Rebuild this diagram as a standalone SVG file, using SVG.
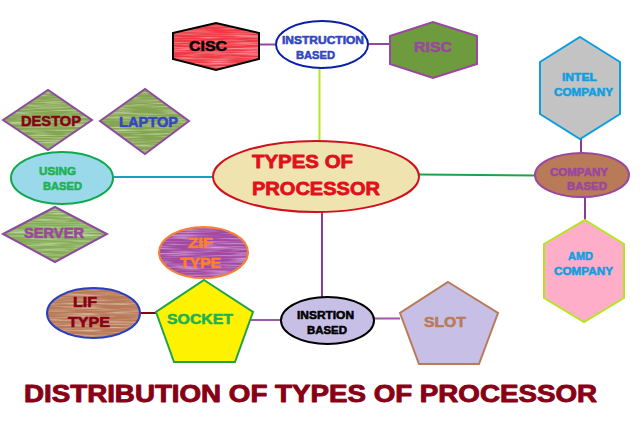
<svg xmlns="http://www.w3.org/2000/svg" width="640" height="422" viewBox="0 0 640 422">
<style>
text{font-family:"Liberation Sans",Arial,sans-serif;font-weight:bold;stroke-width:.55;stroke-linejoin:round}
.s11{font-size:11px}.s14{font-size:14.500px}.s15{font-size:15.500px}.s19{font-size:19px;stroke-width:.8}.s24{font-size:23.500px;stroke-width:.9}
.pur{fill:#9a479f;stroke:#9a479f}.blu{fill:#3347c0;stroke:#3347c0}.dred{fill:#880015;stroke:#880015}.grn{fill:#1fb155;stroke:#1fb155}.org{fill:#ff7f27;stroke:#ff7f27}.cya{fill:#0f9fe0;stroke:#0f9fe0}.red{fill:#e0101c;stroke:#e0101c}.blk{fill:#000;stroke:#000}.brn{fill:#b97a57;stroke:#b97a57}
.c{fill:none;stroke-width:2}
.o{fill:none;stroke-width:2}
.t{filter:url(#streak)}
</style>
<defs>
<filter id="streak" x="0" y="0" width="100%" height="100%" color-interpolation-filters="sRGB">
<feTurbulence type="fractalNoise" baseFrequency="0.03 0.6" numOctaves="2" seed="4" result="n"/>
<feColorMatrix in="n" type="matrix" values="0 0 0 0 1  0 0 0 0 1  0 0 0 0 1  1.1 0 0 0 -0.45" result="w"/>
<feComposite in="w" in2="SourceAlpha" operator="in" result="s"/>
<feMerge><feMergeNode in="SourceGraphic"/><feMergeNode in="s"/></feMerge>
</filter>
</defs>
<rect width="640" height="422" fill="#fff"/>
<g id="connectors" class="c">
<path d="M259 44.500H276" stroke="#8e4a9e"/>
<path d="M368 44H390" stroke="#8e4a9e"/>
<path d="M319.500 68V141" stroke="#b5e61d"/>
<path d="M113 177H214" stroke="#1a9fc0"/>
<path d="M419 174.500L535 175.500" stroke="#1fa34a"/>
<path d="M581 139V153" stroke="#8e3a94"/>
<path d="M585 197V220" stroke="#8e3a94"/>
<path d="M322 212V297" stroke="#8e3a94"/>
<path d="M140 313H156" stroke="#880015"/>
<path d="M251 320H281" stroke="#9a5aa6"/>
<path d="M374 318.500H400" stroke="#9a5aa6"/>
</g>
<g id="main">
<ellipse cx="316" cy="176.500" rx="103" ry="35.500" fill="#efe4b0" stroke="#d0101c" stroke-width="2"/>
<text class="s19 red" x="252" y="168" textLength="101" lengthAdjust="spacingAndGlyphs">TYPES OF</text>
<text class="s19 red" x="252" y="195" textLength="128" lengthAdjust="spacingAndGlyphs">PROCESSOR</text>
</g>
<g id="cisc">
<polygon class="t" points="173,33 216,23 259,33 259,59 216,70 173,59" fill="#ed3a44"/>
<polygon class="o" points="173,33 216,23 259,33 259,59 216,70 173,59" stroke="#000"/>
<text class="s15 blk" x="189" y="51" textLength="38" lengthAdjust="spacingAndGlyphs">CISC</text>
</g>
<g id="instruction">
<ellipse cx="322" cy="44.500" rx="46" ry="23.500" fill="#fff" stroke="#0a1fa8" stroke-width="2"/>
<text class="s11 blu" x="282" y="44" textLength="82" lengthAdjust="spacingAndGlyphs">INSTRUCTION</text>
<text class="s11 blu" x="296" y="59" textLength="39" lengthAdjust="spacingAndGlyphs">BASED</text>
</g>
<g id="risc">
<polygon points="390,36 433,22 477,36 477,64 433,78 390,64" fill="#6f9b3f" stroke="#9a479f" stroke-width="2"/>
<text class="s15 pur" x="414" y="52" textLength="38" lengthAdjust="spacingAndGlyphs">RISC</text>
</g>
<g id="intel">
<polygon points="580,37 620,62 620,114 580,139 540,114 540,62" fill="#c3c3c3" stroke="#0f9fdc" stroke-width="2"/>
<text class="s11 cya" x="562" y="81" textLength="35" lengthAdjust="spacingAndGlyphs">INTEL</text>
<text class="s11 cya" x="554" y="96" textLength="59" lengthAdjust="spacingAndGlyphs">COMPANY</text>
</g>
<g id="company">
<ellipse cx="582" cy="175" rx="47" ry="22" fill="#b97a57" stroke="#9a479f" stroke-width="2"/>
<text class="s11 pur" x="550" y="176" textLength="58" lengthAdjust="spacingAndGlyphs">COMPANY</text>
<text class="s11 pur" x="567" y="190" textLength="40" lengthAdjust="spacingAndGlyphs">BASED</text>
</g>
<g id="amd">
<polygon points="585,220 624,244 624,298 584,322 544,298 544,244" fill="#ffaec9" stroke="#b5e61d" stroke-width="2"/>
<text class="s11 cya" x="568" y="260" textLength="25" lengthAdjust="spacingAndGlyphs">AMD</text>
<text class="s11 cya" x="554" y="275" textLength="59" lengthAdjust="spacingAndGlyphs">COMPANY</text>
</g>
<g id="destop">
<polygon class="t" points="3,120 48,90 92,120 48,150" fill="#85a650"/>
<polygon class="o" points="3,120 48,90 92,120 48,150" stroke="#8e4a9e"/>
<text class="s14 dred" x="21" y="125.500" textLength="60" lengthAdjust="spacingAndGlyphs">DESTOP</text>
</g>
<g id="laptop">
<polygon class="t" points="100,121 145,89 189,121 145,154" fill="#85a650"/>
<polygon class="o" points="100,121 145,89 189,121 145,154" stroke="#8e4a9e"/>
<text class="s14 blu" x="119" y="127" textLength="59" lengthAdjust="spacingAndGlyphs">LAPTOP</text>
</g>
<g id="using">
<ellipse cx="62" cy="178" rx="51" ry="26" fill="#99d9ea" stroke="#0fa84c" stroke-width="2"/>
<text class="s11 grn" x="39" y="175" textLength="37" lengthAdjust="spacingAndGlyphs">USING</text>
<text class="s11 grn" x="43" y="190" textLength="39" lengthAdjust="spacingAndGlyphs">BASED</text>
</g>
<g id="server">
<polygon class="t" points="3,234 55,207 107,234 55,262" fill="#85ad55"/>
<polygon class="o" points="3,234 55,207 107,234 55,262" stroke="#8e4a9e"/>
<text class="s14 pur" x="24" y="238" textLength="60" lengthAdjust="spacingAndGlyphs">SERVER</text>
</g>
<g id="zif">
<ellipse class="t" cx="203.500" cy="252.500" rx="44.500" ry="25.500" fill="#a349a4"/>
<ellipse class="o" cx="203.500" cy="252.500" rx="44.500" ry="25.500" stroke="#f58233"/>
<text class="s14 org" x="188" y="248" textLength="25" lengthAdjust="spacingAndGlyphs">ZIF</text>
<text class="s14 org" x="180" y="268" textLength="41" lengthAdjust="spacingAndGlyphs">TYPE</text>
</g>
<g id="lif">
<ellipse class="t" cx="93.500" cy="313" rx="46.500" ry="25" fill="#b97a57"/>
<ellipse class="o" cx="93.500" cy="313" rx="46.500" ry="25" stroke="#2a3fc0"/>
<text class="s14 dred" x="73" y="307" textLength="24" lengthAdjust="spacingAndGlyphs">LIF</text>
<text class="s14 dred" x="68" y="327" textLength="42" lengthAdjust="spacingAndGlyphs">TYPE</text>
</g>
<g id="socket">
<polygon points="204,280 253,312 235,362 174,362 156,312" fill="#fff200" stroke="#1fa34a" stroke-width="2"/>
<text class="s14 grn" x="167" y="324" textLength="66" lengthAdjust="spacingAndGlyphs">SOCKET</text>
</g>
<g id="insertion">
<ellipse cx="327.500" cy="320.500" rx="46.500" ry="23.500" fill="#c8bfe7" stroke="#000" stroke-width="2"/>
<text class="s11 blk" x="297" y="319" textLength="57" lengthAdjust="spacingAndGlyphs">INSRTION</text>
<text class="s11 blk" x="307" y="334" textLength="40" lengthAdjust="spacingAndGlyphs">BASED</text>
</g>
<g id="slot">
<polygon points="448,282 498,313 479,364 419,364 400,313" fill="#c8bfe7" stroke="#b97a57" stroke-width="2"/>
<text class="s15 brn" x="424" y="327" textLength="42" lengthAdjust="spacingAndGlyphs">SLOT</text>
</g>
<text class="s24 dred" x="24" y="402" textLength="573" lengthAdjust="spacingAndGlyphs">DISTRIBUTION OF TYPES OF PROCESSOR</text>
</svg>
